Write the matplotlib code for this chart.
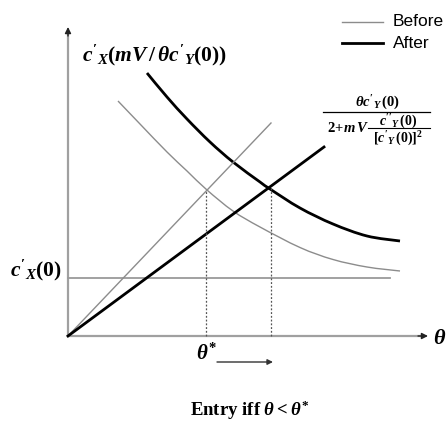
import matplotlib
matplotlib.use('Agg')
import matplotlib.pyplot as plt
from matplotlib.path import Path
from matplotlib.patches import PathPatch

plt.rcParams['mathtext.fontset'] = 'custom'
plt.rcParams['mathtext.rm'] = 'Liberation Serif:bold'
plt.rcParams['mathtext.it'] = 'Liberation Serif:bold:italic'
plt.rcParams['mathtext.bf'] = 'Liberation Serif:bold'

# marginal cost curves (theta, value)
after_curve_x = [0.79, 0.99, 1.19, 1.42, 1.65, 1.92, 2.02, 2.32, 2.65, 2.99, 3.32]
after_curve_y = [2.63, 2.39, 2.17, 1.94, 1.74, 1.54, 1.47, 1.28, 1.12, 1.00, 0.95]
before_curve_x = [0.50, 0.72, 0.99, 1.19, 1.39, 1.65, 1.92, 2.32, 2.65, 2.99, 3.32]
before_curve_y = [2.35, 2.12, 1.84, 1.65, 1.46, 1.25, 1.09, 0.885, 0.765, 0.69, 0.65]

# rays from the origin
after_ray_x = [0, 2.56]
after_ray_y = [0, 1.89]
before_ray_x = [0, 2.03]
before_ray_y = [0, 2.13]

cx0 = 0.58          # c'_X(0) level
cx0_end = 3.22
theta_star = [1.38, 2.03]   # before / after crossing
theta_star_y = [1.45, 1.50]


def smooth_path(xs, ys):
    # Catmull-Rom through the points, written as cubic Bezier segments
    pts = list(zip(xs, ys))
    verts = [pts[0]]
    codes = [Path.MOVETO]
    for i in range(len(pts) - 1):
        p0 = pts[i - 1] if i > 0 else pts[i]
        p1, p2 = pts[i], pts[i + 1]
        p3 = pts[i + 2] if i + 2 < len(pts) else pts[i + 1]
        c1 = (p1[0] + (p2[0] - p0[0]) / 6, p1[1] + (p2[1] - p0[1]) / 6)
        c2 = (p2[0] - (p3[0] - p1[0]) / 6, p2[1] - (p3[1] - p1[1]) / 6)
        verts += [c1, c2, p2]
        codes += [Path.CURVE4] * 3
    return Path(verts, codes)


fig = plt.figure(figsize=(4.46, 4.21), dpi=100)
ax = fig.add_axes([0, 0, 1, 1])
ax.set_xlim(-0.68, 3.78)
ax.set_ylim(-0.85, 3.36)
ax.axis('off')

thin = dict(color='#8c8c8c', lw=1.0)
thick = dict(color='black', lw=2.0)

# axes with arrowheads
axis_col = '#a0a0a0'
ax.plot([0, 0], [0, 3.02], color=axis_col, lw=1.6)
ax.plot([0, 3.52], [0, 0], color=axis_col, lw=1.6)
ax.annotate('', xy=(0, 3.09), xytext=(0, 3.0),
            arrowprops=dict(arrowstyle='-|>', color='#222222', lw=1.0,
                            mutation_scale=9, shrinkA=0, shrinkB=0))
ax.annotate('', xy=(3.60, 0), xytext=(3.50, 0),
            arrowprops=dict(arrowstyle='-|>', color='#222222', lw=1.0,
                            mutation_scale=9, shrinkA=0, shrinkB=0))

ax.plot([0, cx0_end], [cx0, cx0], color='#9a9a9a', lw=1.3)

ax.add_patch(PathPatch(smooth_path(before_curve_x, before_curve_y),
                       fill=False, edgecolor=thin['color'], lw=thin['lw']))
ax.plot(before_ray_x, before_ray_y, **thin)
ax.add_patch(PathPatch(smooth_path(after_curve_x, after_curve_y),
                       fill=False, edgecolor=thick['color'], lw=thick['lw']))
ax.plot(after_ray_x, after_ray_y, **thick)

for x, y in zip(theta_star, theta_star_y):
    ax.plot([x, x], [0, y], color='#555555', lw=0.9, ls=(0, (1.5, 1.5)))

# legend
ax.plot([2.74, 3.15], [3.14, 3.14], **thin)
ax.plot([2.74, 3.15], [2.93, 2.93], **thick)
ax.text(3.25, 3.14, 'Before', family='Liberation Sans', fontsize=12.5,
        va='center', ha='left')
ax.text(3.25, 2.93, 'After', family='Liberation Sans', fontsize=12.5,
        va='center', ha='left')

# labels
ax.text(0.14, 2.81, r"$c'_X(mV\,/\,\theta c'_Y(0))$", fontsize=15.5,
        va='center', ha='left')
ax.text(-0.32, 0.66, r"$c'_X(0)$", fontsize=15.5, va='center', ha='center')

# intercept fraction, built piece by piece
ax.text(3.09, 2.33, r"$\theta c'_Y\,(0)$", fontsize=10.5, va='center', ha='center')
ax.plot([2.55, 3.62], [2.24, 2.24], color='black', lw=0.9)
ax.text(2.59, 2.08, r"$2\!+\!m\,V$", fontsize=10.5, va='center', ha='left')
ax.text(3.30, 2.14, r"$c''_Y\,(0)$", fontsize=10, va='center', ha='center')
ax.plot([3.0, 3.62], [2.085, 2.085], color='black', lw=0.8)
ax.text(3.30, 1.97, r"$[c'_Y\,(0)]^2$", fontsize=10, va='center', ha='center')

ax.text(3.72, -0.02, r"$\theta$", fontsize=16, va='center', ha='center')
ax.text(1.39, -0.17, r"$\theta^{*}$", fontsize=15, va='center', ha='center')
ax.annotate('', xy=(2.05, -0.26), xytext=(1.49, -0.26),
            arrowprops=dict(arrowstyle='-|>', color='#333333', lw=1.0,
                            mutation_scale=8, shrinkA=0, shrinkB=0))
ax.text(1.82, -0.74, r"Entry iff $\theta < \theta^{*}$", family='Liberation Serif',
        fontweight='bold', fontsize=13.5, va='center', ha='center')

fig.savefig('out.png', dpi=100)
